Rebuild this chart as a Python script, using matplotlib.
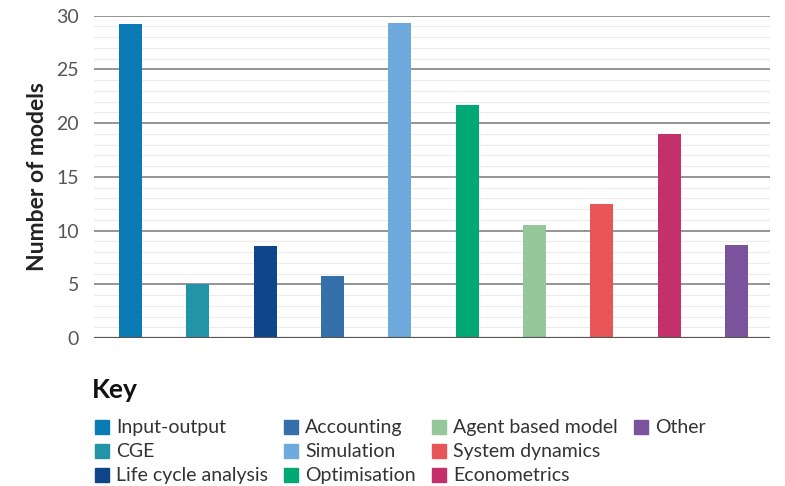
import matplotlib.pyplot as plt
from matplotlib.patches import Patch

plt.rcParams['font.family'] = ['Lato', 'DejaVu Sans']

categories = ["Input-output", "CGE", "Life cycle analysis", "Accounting", "Simulation",
              "Optimisation", "Agent based model", "System dynamics", "Econometrics", "Other"]
models = [29.2, 5.0, 8.6, 5.8, 29.3, 21.7, 10.5, 12.5, 19.0, 8.7]
colors = ["#0a7bb5", "#2394a8", "#0f468a", "#3570aa", "#6eaadc",
          "#00a874", "#96c79a", "#e85557", "#c4306a", "#7b539d"]
yticks = [0, 5, 10, 15, 20, 25, 30]

fig = plt.figure(figsize=(7.85, 4.86), dpi=100)
ax = fig.add_axes([0.120, 0.304, 0.861, 0.664])

x = list(range(len(categories)))
ax.bar(x, models, width=0.34, color=colors, zorder=3)

ax.set_xlim(-0.54, 9.5)
ax.set_ylim(0, 30)
ax.set_yticks(yticks)
ax.set_yticks(range(0, 31), minor=True)
ax.set_xticks([])
ax.grid(axis='y', which='minor', color='#ececec', linewidth=0.8, zorder=0)
ax.grid(axis='y', which='major', color='#8c8c8c', linewidth=1.3, zorder=1)
ax.axhline(0, color='#555555', linewidth=1.6, zorder=4)
for s in ax.spines.values():
    s.set_visible(False)
ax.tick_params(axis='y', which='both', length=0, pad=11, labelsize=14, labelcolor='#555555')
ax.set_ylabel("Number of models", fontsize=16.5, fontweight='bold', color='#222222', labelpad=6)

fig.text(0.117, 0.198, "Key", fontsize=19, fontweight='bold', color='#111111', va='center')

handles = [Patch(color=c) for c in colors]
labels = list(categories)
# pad to 12 entries so the columns fill 3-3-3-1 as in the key
handles += [Patch(color='none'), Patch(color='none')]
labels += ["", ""]
fig.legend(handles, labels, ncol=4, loc='upper left', bbox_to_anchor=(0.121, 0.137),
           frameon=False, fontsize=14, labelcolor='#333333',
           handlelength=0.72, handleheight=0.72, handletextpad=0.35,
           columnspacing=0.85, labelspacing=0.36, borderaxespad=0, borderpad=0)

plt.savefig("out.png", dpi=100)
